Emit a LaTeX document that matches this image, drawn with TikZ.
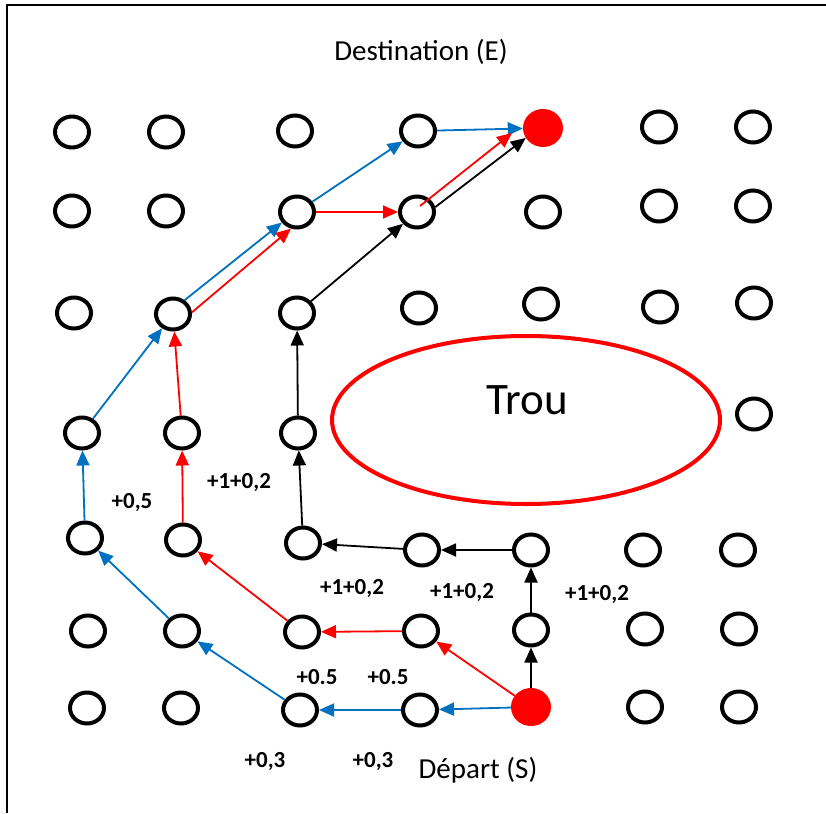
\documentclass[tikz,border=0pt]{standalone}
\usepackage{fontspec}
\setmainfont{Carlito}
\usetikzlibrary{arrows.meta,shapes.geometric}
\definecolor{pathblue}{RGB}{0,112,192}

\begin{document}
\begin{tikzpicture}[x=1pt,y=-1pt,
    spot/.style={draw,ellipse,line width=4pt,minimum width=34pt,minimum height=31pt,inner sep=0pt},
    goal/.style={fill=red,ellipse,minimum width=40pt,minimum height=38pt,inner sep=0pt},
    hole/.style={draw=red,ellipse,line width=4pt,minimum width=388pt,minimum height=168pt},
    cost/.style={font=\bfseries\fontsize{23}{25}\selectfont},
    big/.style={font=\fontsize{29}{32}\selectfont},
    walk/.style={-{Triangle[length=15pt,width=13pt]},line width=1.8pt}]
    \useasboundingbox (0,0) rectangle (826,813);
    \draw[line width=1.5pt] (826,5) -- (7,5) -- (7,813);

    % grid of positions, row by row
    \node[spot] (p11) at (72,132) {};  \node[spot] (p12) at (166,132) {};
    \node[spot] (p13) at (295,131) {}; \node[spot] (p14) at (418,131) {};
    \node[goal] (E)   at (543,128) {};
    \node[spot] (p16) at (659,127) {}; \node[spot] (p17) at (753,127) {};

    \node[spot] (p21) at (72,211) {};  \node[spot] (p22) at (166,211) {};
    \node[spot] (p23) at (297,212) {}; \node[spot] (p24) at (417,212) {};
    \node[spot] (p25) at (543,212) {}; \node[spot] (p26) at (659,206) {};
    \node[spot] (p27) at (753,206) {};

    \node[spot] (p31) at (74,313) {};  \node[spot] (p32) at (173,314) {};
    \node[spot] (p33) at (297,313) {}; \node[spot] (p34) at (419,308) {};
    \node[spot] (p35) at (541,304) {}; \node[spot] (p36) at (660,307) {};
    \node[spot] (p37) at (754,303) {};

    \node[spot] (p41) at (82,433) {};  \node[spot] (p42) at (182,433) {};
    \node[spot] (p43) at (298,433) {}; \node[spot] (p47) at (754,414) {};

    \node[spot] (p51) at (85,538) {};  \node[spot] (p52) at (183,540) {};
    \node[spot] (p53) at (303,543) {}; \node[spot] (p54) at (422,550) {};
    \node[spot] (p55) at (531,550) {}; \node[spot] (p56) at (643,550) {};
    \node[spot] (p57) at (738,550) {};

    \node[spot] (p61) at (88,631) {};  \node[spot] (p62) at (182,631) {};
    \node[spot] (p63) at (302,632) {}; \node[spot] (p64) at (421,631) {};
    \node[spot] (p65) at (531,630) {}; \node[spot] (p66) at (645,629) {};
    \node[spot] (p67) at (739,629) {};

    \node[spot] (p71) at (87,708) {};  \node[spot] (p72) at (181,708) {};
    \node[spot] (p73) at (300,710) {}; \node[spot] (p74) at (420,710) {};
    \node[goal] (S)   at (531,707) {};
    \node[spot] (p76) at (645,707) {}; \node[spot] (p77) at (739,707) {};

    \node[hole] (trou) at (526,420) {};
    \node[font=\fontsize{45}{50}\selectfont] (troutext) at (527,400) {Trou};

    \node[big] (dest) at (421,52) {Destination (E)};
    \node[big] (dep) at (478,770) {Départ (S)};

    % the three walks from S to E
    \path[walk,pathblue]
    (S) edge (p74)
    (p74) edge (p73)
    (p73) edge (p62)
    (p62) edge (p51)
    (p51) edge (p41)
    (p41) edge (p32)
    (p32.50) edge (p23.215)
    (p23) edge (p14)
    (p14) edge (E)
    ;
    \path[walk,red]
    (S) edge (p64)
    (p64) edge (p63)
    (p63) edge (p52)
    (p52) edge (p42)
    (p42) edge (p32)
    (p32.5) edge (p23.250)
    (p23) edge (p24)
    ([shift={(3pt,6pt)}]p24.center) edge ([shift={(-31pt,-5pt)}]E.center)
    ;
    \path[walk,black]
    (S) edge (p65)
    (p65) edge (p55)
    (p55) edge (p54)
    (p54) edge (p53)
    (p53) edge (p43)
    (p43) edge (p33)
    (p33) edge (p24)
    (p24.15) edge (E.210)
    ;

    % step costs
    \node[cost] (c1) at (132,503) {+0,5};
    \node[cost] (c2) at (239,483) {+1+0,2};
    \node[cost] (c3) at (352,589) {+1+0,2};
    \node[cost] (c4) at (462,593) {+1+0,2};
    \node[cost] (c5) at (597,595) {+1+0,2};
    \node[cost] (c6) at (317,677) {+0.5};
    \node[cost] (c7) at (388,677) {+0.5};
    \node[cost] (c8) at (265,762) {+0,3};
    \node[cost] (c9) at (373,762) {+0,3};
\end{tikzpicture}
\end{document}
